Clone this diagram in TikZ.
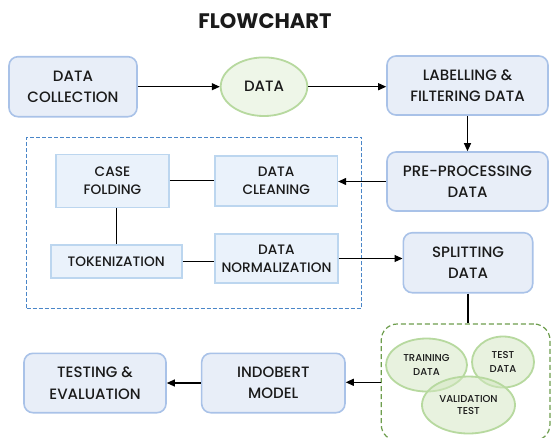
\documentclass[tikz,border=0pt]{standalone}
\usepackage{fontspec}
\setmainfont{Poppins}[UprightFont={* Medium}, BoldFont={* Bold}]
\usetikzlibrary{arrows.meta,shapes.geometric}
\definecolor{bfill}{HTML}{E8EEF8}
\definecolor{bdraw}{HTML}{A9C2E8}
\definecolor{ifill}{HTML}{EAF2FB}
\definecolor{idraw}{HTML}{BCD6EF}
\definecolor{gfill}{HTML}{D3E7C1}
\definecolor{dfill}{HTML}{EEF6E8}
\definecolor{gdraw}{HTML}{B7D99F}
\definecolor{gdash}{HTML}{6E9E4E}
\definecolor{bdash}{HTML}{4A86C8}
\definecolor{txt}{HTML}{1A1A1A}
\tikzset{
  mainbox/.style={draw=bdraw, fill=bfill, line width=1.6pt, rounded corners=9pt, align=center, text=txt, font=\fontsize{15}{21.5}\selectfont, inner sep=0pt},
  subbox/.style={draw=idraw, fill=ifill, line width=1.6pt, align=center, text=txt, font=\fontsize{13.7}{18}\selectfont, inner sep=0pt},
  oval/.style={ellipse, draw=gdraw, line width=1.8pt, align=center, text=txt, inner sep=0pt},
  subset/.style={oval, fill=gfill, fill opacity=0.5, text opacity=1},
  conn/.style={line width=1.1pt, black},
  arr/.style={conn, -{Triangle[length=8pt,width=7pt]}}
}
\begin{document}
\begin{tikzpicture}[x=1pt,y=-1pt]
\useasboundingbox[fill=white] (0,0) rectangle (551,437);
\node[font=\fontsize{21}{21}\selectfont\bfseries, text=txt] (title) at (265,21) {FLOWCHART};
% row 1
\node[mainbox, minimum width=128pt, minimum height=60pt] (dc) at (73,86.7) {DATA\\COLLECTION};
\node[oval, fill=dfill, minimum width=86.6pt, minimum height=58.6pt, font=\fontsize{15}{21}\selectfont] (data) at (264,86.7) {DATA};
\node[mainbox, minimum width=161pt, minimum height=59pt] (lab) at (467.5,85.5) {LABELLING \&\\FILTERING DATA};
% right column
\node[mainbox, minimum width=161pt, minimum height=59pt] (pre) at (467.5,181.5) {PRE-PROCESSING\\DATA};
\node[mainbox, minimum width=129.4pt, minimum height=60pt] (split) at (468,262.7) {SPLITTING\\DATA};
% blue dashed group
\node[draw=bdash, line width=1pt, dash pattern=on 4pt off 2pt, minimum width=335.3pt, minimum height=170.7pt, inner sep=0pt] (grp) at (194.3,222.7) {};
\node[subbox, minimum width=113pt, minimum height=53pt] (case) at (112.5,180.8) {CASE\\FOLDING};
\node[subbox, minimum width=122.3pt, minimum height=50pt] (clean) at (276.2,181) {DATA\\CLEANING};
\node[subbox, minimum width=131pt, minimum height=33pt] (tok) at (116.2,261.5) {TOKENIZATION};
\node[subbox, minimum width=123pt, minimum height=49.4pt] (norm) at (276.5,258.5) {DATA\\NORMALIZATION};
% green dashed group
\node[draw=gdash, line width=1.2pt, dash pattern=on 5pt off 3pt, rounded corners=16pt, minimum width=168.7pt, minimum height=116.6pt, inner sep=0pt] (grn) at (465.6,382.3) {};
\node[subset, minimum width=81pt, minimum height=53pt, font=\fontsize{10}{14}\selectfont] (train) at (426.5,365) {TRAINING\\DATA};
\node[subset, minimum width=62pt, minimum height=51pt, font=\fontsize{10}{14}\selectfont] (test) at (503,362) {TEST\\DATA};
\node[subset, minimum width=93pt, minimum height=57pt, font=\fontsize{10}{12}\selectfont] (val) at (468.5,405) {VALIDATION\\TEST};
% bottom row
\node[mainbox, minimum width=143.3pt, minimum height=59.4pt] (indo) at (273.3,383) {INDOBERT\\MODEL};
\node[mainbox, minimum width=142pt, minimum height=59.4pt] (eval) at (95,383) {TESTING \&\\EVALUATION};
% connectors
\draw[arr] (dc.east) -- (data.west);
\draw[arr] (data.east) -- (data.east -| lab.west);
\draw[arr] (lab.south) -- (pre.north);
\draw[arr] (pre.west) -- (pre.west -| clean.east);
\draw[conn] (case.east) -- (case.east -| clean.west);
\draw[conn] (tok.north) -- (tok.north |- case.south);
\draw[conn] (tok.east) -- (tok.east -| norm.west);
\draw[arr] (norm.east) -- (norm.east -| split.west);
\draw[conn] (split.south) -- (split.south |- grn.north);
\draw[arr] (grn.west) -- (grn.west -| indo.east);
\draw[arr] (indo.west) -- (indo.west -| eval.east);
\end{tikzpicture}
\end{document}
